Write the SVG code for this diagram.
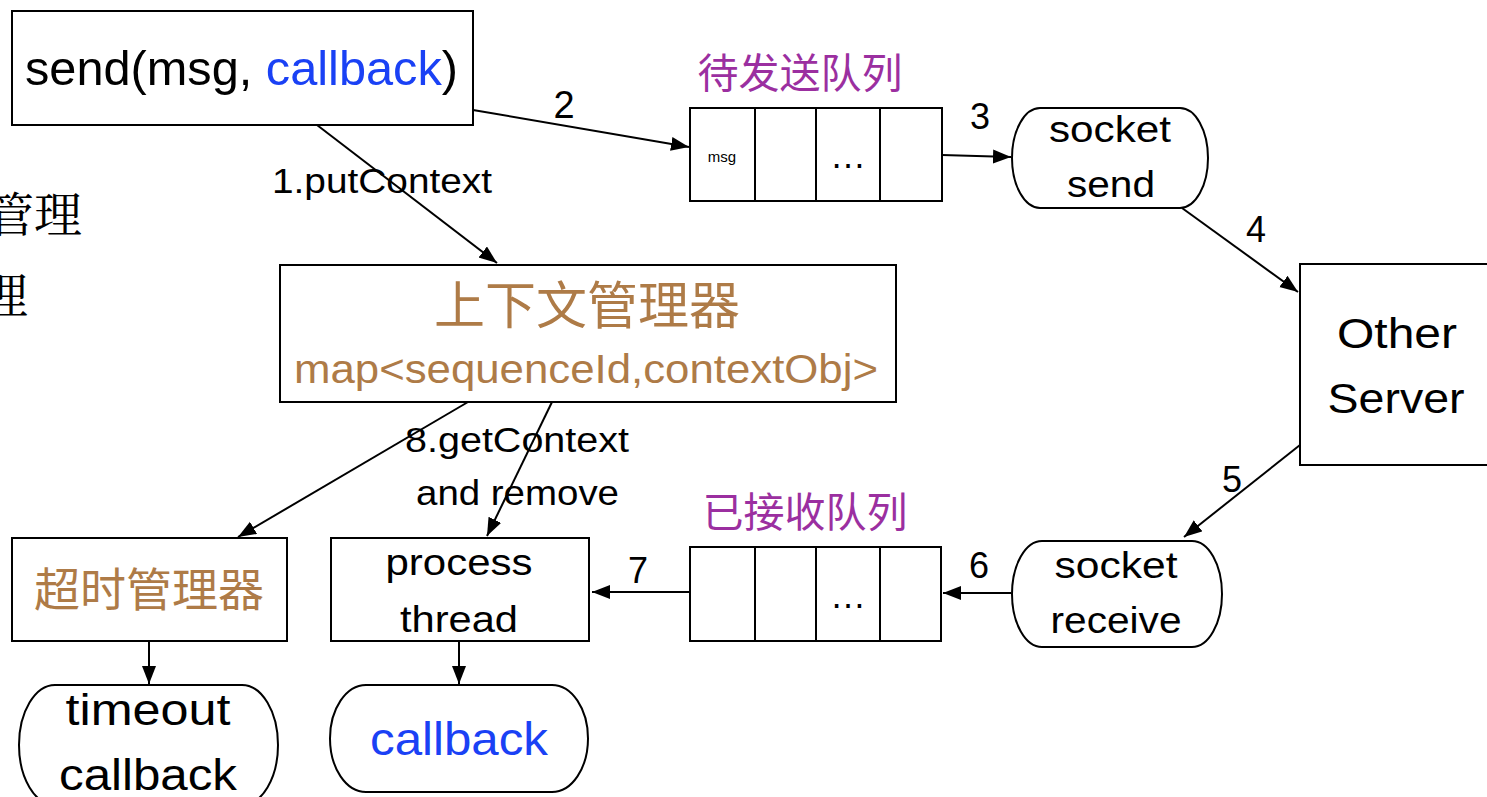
<svg xmlns="http://www.w3.org/2000/svg" width="1487" height="797" viewBox="0 0 1487 797">
<style>
.box{fill:#fff;stroke:#000;stroke-width:2}
.t{font-family:"Liberation Sans",Arial,"Noto Sans CJK SC",sans-serif;fill:#000}
.c{text-anchor:middle}
.cjk{font-family:"Noto Sans CJK SC","Liberation Sans",sans-serif}
.brown{fill:#AE7B47}
.purple{fill:#9B2FA0}
.blue{fill:#1A41F5}
.ln{stroke:#000;stroke-width:2;fill:none;marker-end:url(#ah)}
.div{stroke:#000;stroke-width:2}
</style>
<defs>
<marker id="ah" markerUnits="userSpaceOnUse" markerWidth="20" markerHeight="16" refX="18" refY="7" orient="auto" viewBox="0 0 20 16">
<path d="M0,0 L18,7 L0,14 z" fill="#000"/>
</marker>
</defs>
<rect width="1487" height="797" fill="#fff"/>

<g id="edge-fragments">
<text x="82" y="232" font-size="48" text-anchor="end" style="font-family:'Noto Serif CJK SC','Noto Sans CJK SC',serif">管理</text>
<text x="28" y="313" font-size="48" text-anchor="end" style="font-family:'Noto Serif CJK SC','Noto Sans CJK SC',serif">理</text>
</g>

<g id="connectors">
<line class="ln" x1="317" y1="125" x2="497" y2="263"/>
<line class="ln" x1="473" y1="110" x2="689" y2="147"/>
<line class="ln" x1="942" y1="155" x2="1011" y2="157"/>
<line class="ln" x1="1182" y1="208" x2="1298" y2="292"/>
<line class="ln" x1="1300" y1="445" x2="1184" y2="537"/>
<line class="ln" x1="1011" y1="593" x2="943" y2="593"/>
<line class="ln" x1="690" y1="592" x2="592" y2="592"/>
<line class="ln" x1="468" y1="402" x2="238" y2="537"/>
<line class="ln" x1="552" y1="402" x2="487" y2="536"/>
<line class="ln" x1="149" y1="641" x2="149" y2="684"/>
<line class="ln" x1="459" y1="641" x2="459" y2="684"/>
<text class="t" x="272" y="193" font-size="35" textLength="220" lengthAdjust="spacingAndGlyphs">1.putContext</text>
<text class="t c" x="564" y="118" font-size="38">2</text>
<text class="t c" x="980" y="129" font-size="36">3</text>
<text class="t c" x="1256" y="242" font-size="36">4</text>
<text class="t c" x="1232" y="492" font-size="36">5</text>
<text class="t c" x="979" y="578" font-size="36">6</text>
<text class="t c" x="638" y="583" font-size="36">7</text>
<text class="t" x="405" y="452" font-size="35" textLength="224" lengthAdjust="spacingAndGlyphs">8.getContext</text>
<text class="t" x="416" y="505" font-size="35" textLength="203" lengthAdjust="spacingAndGlyphs">and remove</text>
</g>

<g id="send">
<rect class="box" x="12" y="11" width="461" height="114"/>
<text class="t" x="25" y="85" font-size="48" textLength="433" lengthAdjust="spacingAndGlyphs">send(msg, <tspan class="blue">callback</tspan>)</text>
</g>

<g id="send-queue">
<text class="t cjk purple c" x="800" y="88" font-size="41">待发送队列</text>
<rect class="box" x="690" y="108" width="252" height="93"/>
<line class="div" x1="755" y1="108" x2="755" y2="201"/>
<line class="div" x1="816" y1="108" x2="816" y2="201"/>
<line class="div" x1="880" y1="108" x2="880" y2="201"/>
<text class="t c" x="722" y="162" font-size="15">msg</text>
<text class="t c" x="848" y="168" font-size="36">…</text>
</g>

<g id="socket-send">
<path class="box" d="M1040,108 H1180 A28,50 0 0 1 1180,208 H1040 A28,50 0 0 1 1040,108 Z"/>
<text class="t c" x="1110" y="142" font-size="36" textLength="122" lengthAdjust="spacingAndGlyphs">socket</text>
<text class="t c" x="1111" y="197" font-size="36" textLength="88" lengthAdjust="spacingAndGlyphs">send</text>
</g>

<g id="other-server">
<rect class="box" x="1300" y="264" width="200" height="201"/>
<text class="t c" x="1397" y="348" font-size="42" textLength="120" lengthAdjust="spacingAndGlyphs">Other</text>
<text class="t c" x="1396" y="413" font-size="42" textLength="137" lengthAdjust="spacingAndGlyphs">Server</text>
</g>

<g id="context-manager">
<rect class="box" x="280" y="265" width="616" height="137"/>
<text class="t cjk brown c" x="587" y="324" font-size="51">上下文管理器</text>
<text class="t brown" x="294" y="383" font-size="40" textLength="584" lengthAdjust="spacingAndGlyphs">map&lt;sequenceId,contextObj&gt;</text>
</g>

<g id="socket-receive">
<path class="box" d="M1042,541 H1192 A30,53 0 0 1 1192,647 H1042 A30,53 0 0 1 1042,541 Z"/>
<text class="t c" x="1116" y="578" font-size="36" textLength="123" lengthAdjust="spacingAndGlyphs">socket</text>
<text class="t c" x="1116" y="633" font-size="36" textLength="131" lengthAdjust="spacingAndGlyphs">receive</text>
</g>

<g id="recv-queue">
<text class="t cjk purple c" x="805" y="527" font-size="41">已接收队列</text>
<rect class="box" x="690" y="547" width="251" height="94"/>
<line class="div" x1="755" y1="547" x2="755" y2="641"/>
<line class="div" x1="816" y1="547" x2="816" y2="641"/>
<line class="div" x1="880" y1="547" x2="880" y2="641"/>
<text class="t c" x="848" y="608" font-size="36">…</text>
</g>

<g id="process-thread">
<rect class="box" x="331" y="538" width="258" height="103"/>
<text class="t c" x="459" y="575" font-size="36" textLength="147" lengthAdjust="spacingAndGlyphs">process</text>
<text class="t c" x="459" y="632" font-size="36" textLength="118" lengthAdjust="spacingAndGlyphs">thread</text>
</g>

<g id="timeout-manager">
<rect class="box" x="12" y="538" width="275" height="103"/>
<text class="t cjk brown c" x="149" y="606" font-size="46">超时管理器</text>
</g>

<g id="timeout-callback">
<path class="box" d="M55,685 H242 A36,60 0 0 1 242,805 H55 A36,60 0 0 1 55,685 Z"/>
<text class="t c" x="148" y="725" font-size="44" textLength="165" lengthAdjust="spacingAndGlyphs">timeout</text>
<text class="t c" x="148" y="790" font-size="44" textLength="178" lengthAdjust="spacingAndGlyphs">callback</text>
</g>

<g id="callback">
<path class="box" d="M366,685 H552 A36,53.5 0 0 1 552,792 H366 A36,53.5 0 0 1 366,685 Z"/>
<text class="t blue c" x="459" y="755" font-size="46" textLength="178" lengthAdjust="spacingAndGlyphs">callback</text>
</g>
</svg>
